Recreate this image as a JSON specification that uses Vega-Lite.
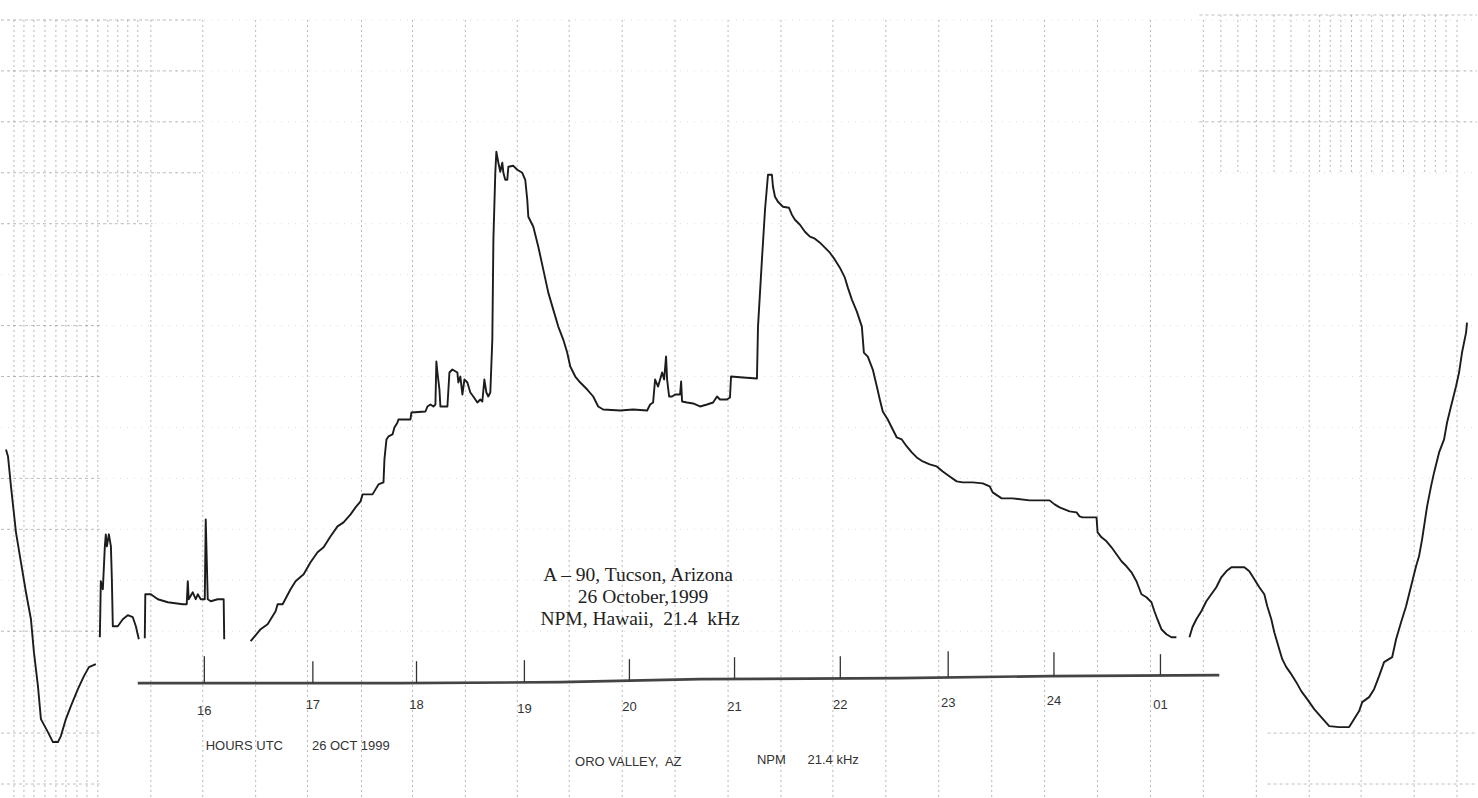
{
"$schema": "https://vega.github.io/schema/vega-lite/v6.json",
"width": 1478, "height": 798, "padding": 0,
"autosize": {"type": "fit", "contains": "padding"},
"background": "white",
"config": {"view": {"stroke": null}},
"datasets": {
"trace": [
{"h":14.119,"a":34.8,"s":1},{"h":14.138,"a":34.1,"s":1},{"h":14.166,"a":31.1,"s":1},{"h":14.213,"a":26.5,"s":1},{"h":14.260,"a":23.5,"s":1},{"h":14.307,"a":20.5,"s":1},{"h":14.354,"a":17.8,"s":1},{"h":14.382,"a":14.5,"s":1},{"h":14.420,"a":11.1,"s":1},{"h":14.448,"a":7.8,"s":1},{"h":14.514,"a":6.5,"s":1},{"h":14.561,"a":5.5,"s":1},{"h":14.608,"a":5.5,"s":1},{"h":14.636,"a":6.1,"s":1},{"h":14.683,"a":7.8,"s":1},{"h":14.730,"a":9.1,"s":1},{"h":14.796,"a":10.8,"s":1},{"h":14.853,"a":12.1,"s":1},{"h":14.900,"a":13.0,"s":1},{"h":14.965,"a":13.3,"s":1},
{"h":15.003,"a":16.0,"s":2},{"h":15.012,"a":21.6,"s":2},{"h":15.031,"a":20.8,"s":2},{"h":15.050,"a":25.1,"s":2},{"h":15.059,"a":26.3,"s":2},{"h":15.069,"a":25.1,"s":2},{"h":15.088,"a":26.3,"s":2},{"h":15.107,"a":25.1,"s":2},{"h":15.116,"a":21.8,"s":2},{"h":15.125,"a":17.1,"s":2},{"h":15.172,"a":17.1,"s":2},{"h":15.219,"a":17.8,"s":2},{"h":15.266,"a":18.2,"s":2},{"h":15.313,"a":18.0,"s":2},{"h":15.342,"a":17.1,"s":2},{"h":15.370,"a":15.8,"s":2},
{"h":15.426,"a":15.9,"s":3},{"h":15.431,"a":20.3,"s":3},{"h":15.483,"a":20.3,"s":3},{"h":15.549,"a":19.8,"s":3},{"h":15.643,"a":19.5,"s":3},{"h":15.784,"a":19.3,"s":3},{"h":15.821,"a":19.3,"s":3},{"h":15.831,"a":21.6,"s":3},{"h":15.840,"a":19.8,"s":3},{"h":15.878,"a":20.5,"s":3},{"h":15.906,"a":19.8,"s":3},{"h":15.925,"a":20.3,"s":3},{"h":15.953,"a":19.8,"s":3},{"h":15.991,"a":19.8,"s":3},{"h":16.000,"a":27.8,"s":3},{"h":16.019,"a":19.8,"s":3},{"h":16.047,"a":19.6,"s":3},{"h":16.113,"a":19.8,"s":3},{"h":16.169,"a":19.8,"s":3},{"h":16.174,"a":15.8,"s":3},
{"h":16.423,"a":15.6,"s":4},{"h":16.517,"a":16.8,"s":4},{"h":16.583,"a":17.3,"s":4},{"h":16.658,"a":18.6,"s":4},{"h":16.677,"a":19.3,"s":4},{"h":16.724,"a":19.3,"s":4},{"h":16.799,"a":20.8,"s":4},{"h":16.846,"a":21.6,"s":4},{"h":16.922,"a":22.3,"s":4},{"h":16.987,"a":23.5,"s":4},{"h":17.053,"a":24.5,"s":4},{"h":17.110,"a":25.0,"s":4},{"h":17.176,"a":26.1,"s":4},{"h":17.241,"a":27.1,"s":4},{"h":17.298,"a":27.5,"s":4},{"h":17.364,"a":28.3,"s":4},{"h":17.411,"a":29.0,"s":4},{"h":17.458,"a":29.6,"s":4},{"h":17.477,"a":30.3,"s":4},{"h":17.571,"a":30.3,"s":4},{"h":17.599,"a":30.8,"s":4},{"h":17.627,"a":31.3,"s":4},{"h":17.674,"a":31.5,"s":4},{"h":17.683,"a":33.8,"s":4},{"h":17.702,"a":35.8,"s":4},{"h":17.721,"a":36.1,"s":4},{"h":17.759,"a":36.3,"s":4},{"h":17.777,"a":37.0,"s":4},{"h":17.806,"a":37.5,"s":4},{"h":17.815,"a":37.8,"s":4},{"h":17.928,"a":37.8,"s":4},{"h":17.937,"a":38.5,"s":4},{"h":18.069,"a":38.6,"s":4},{"h":18.088,"a":39.1,"s":4},{"h":18.116,"a":39.3,"s":4},{"h":18.144,"a":39.1,"s":4},{"h":18.163,"a":39.3,"s":4},{"h":18.172,"a":43.6,"s":4},{"h":18.182,"a":42.5,"s":4},{"h":18.201,"a":40.8,"s":4},{"h":18.210,"a":39.1,"s":4},{"h":18.276,"a":39.1,"s":4},{"h":18.295,"a":42.5,"s":4},{"h":18.323,"a":42.8,"s":4},{"h":18.370,"a":42.5,"s":4},{"h":18.379,"a":41.5,"s":4},{"h":18.398,"a":42.1,"s":4},{"h":18.417,"a":40.3,"s":4},{"h":18.436,"a":41.8,"s":4},{"h":18.464,"a":41.5,"s":4},{"h":18.492,"a":40.5,"s":4},{"h":18.520,"a":40.1,"s":4},{"h":18.558,"a":39.5,"s":4},{"h":18.586,"a":39.8,"s":4},{"h":18.605,"a":39.6,"s":4},{"h":18.624,"a":41.8,"s":4},{"h":18.643,"a":40.5,"s":4},{"h":18.661,"a":40.1,"s":4},{"h":18.680,"a":40.5,"s":4},{"h":18.699,"a":45.8,"s":4},{"h":18.709,"a":55.8,"s":4},{"h":18.727,"a":62.5,"s":4},{"h":18.737,"a":64.6,"s":4},{"h":18.756,"a":63.5,"s":4},{"h":18.774,"a":62.6,"s":4},{"h":18.793,"a":63.5,"s":4},{"h":18.803,"a":62.5,"s":4},{"h":18.821,"a":61.8,"s":4},{"h":18.840,"a":61.8,"s":4},{"h":18.850,"a":63.1,"s":4},{"h":18.897,"a":63.2,"s":4},{"h":18.934,"a":62.8,"s":4},{"h":18.981,"a":62.5,"s":4},{"h":19.009,"a":61.8,"s":4},{"h":19.028,"a":59.8,"s":4},{"h":19.038,"a":58.1,"s":4},{"h":19.085,"a":57.1,"s":4},{"h":19.132,"a":55.1,"s":4},{"h":19.179,"a":52.8,"s":4},{"h":19.226,"a":50.5,"s":4},{"h":19.273,"a":48.8,"s":4},{"h":19.320,"a":47.1,"s":4},{"h":19.367,"a":45.8,"s":4},{"h":19.404,"a":44.5,"s":4},{"h":19.433,"a":43.1,"s":4},{"h":19.480,"a":42.1,"s":4},{"h":19.527,"a":41.5,"s":4},{"h":19.593,"a":40.8,"s":4},{"h":19.649,"a":40.1,"s":4},{"h":19.696,"a":39.1,"s":4},{"h":19.743,"a":38.8,"s":4},{"h":19.903,"a":38.7,"s":4},{"h":20.025,"a":38.8,"s":4},{"h":20.157,"a":38.7,"s":4},{"h":20.185,"a":39.3,"s":4},{"h":20.213,"a":39.5,"s":4},{"h":20.232,"a":41.8,"s":4},{"h":20.260,"a":41.1,"s":4},{"h":20.298,"a":42.5,"s":4},{"h":20.317,"a":41.8,"s":4},{"h":20.335,"a":44.1,"s":4},{"h":20.345,"a":41.8,"s":4},{"h":20.364,"a":40.1,"s":4},{"h":20.392,"a":40.1,"s":4},{"h":20.420,"a":40.3,"s":4},{"h":20.467,"a":40.3,"s":4},{"h":20.477,"a":41.6,"s":4},{"h":20.486,"a":39.6,"s":4},{"h":20.533,"a":39.5,"s":4},{"h":20.590,"a":39.4,"s":4},{"h":20.655,"a":39.1,"s":4},{"h":20.721,"a":39.3,"s":4},{"h":20.778,"a":39.5,"s":4},{"h":20.815,"a":40.1,"s":4},{"h":20.843,"a":39.8,"s":4},{"h":20.909,"a":39.8,"s":4},{"h":20.937,"a":40.0,"s":4},{"h":20.947,"a":42.1,"s":4},{"h":21.060,"a":42.0,"s":4},{"h":21.191,"a":41.9,"s":4},{"h":21.201,"a":47.1,"s":4},{"h":21.238,"a":53.8,"s":4},{"h":21.267,"a":58.8,"s":4},{"h":21.295,"a":62.3,"s":4},{"h":21.332,"a":62.3,"s":4},{"h":21.342,"a":61.1,"s":4},{"h":21.361,"a":60.1,"s":4},{"h":21.389,"a":59.6,"s":4},{"h":21.436,"a":59.1,"s":4},{"h":21.492,"a":59.0,"s":4},{"h":21.520,"a":58.3,"s":4},{"h":21.549,"a":57.8,"s":4},{"h":21.596,"a":57.3,"s":4},{"h":21.643,"a":56.6,"s":4},{"h":21.690,"a":56.1,"s":4},{"h":21.737,"a":55.9,"s":4},{"h":21.784,"a":55.5,"s":4},{"h":21.831,"a":55.0,"s":4},{"h":21.878,"a":54.5,"s":4},{"h":21.925,"a":53.8,"s":4},{"h":21.972,"a":53.0,"s":4},{"h":22.019,"a":52.0,"s":4},{"h":22.047,"a":51.0,"s":4},{"h":22.085,"a":49.8,"s":4},{"h":22.132,"a":48.6,"s":4},{"h":22.179,"a":47.1,"s":4},{"h":22.198,"a":44.5,"s":4},{"h":22.235,"a":44.1,"s":4},{"h":22.282,"a":42.8,"s":4},{"h":22.320,"a":41.1,"s":4},{"h":22.348,"a":39.8,"s":4},{"h":22.376,"a":38.6,"s":4},{"h":22.423,"a":37.8,"s":4},{"h":22.470,"a":36.8,"s":4},{"h":22.508,"a":36.0,"s":4},{"h":22.555,"a":35.8,"s":4},{"h":22.602,"a":35.1,"s":4},{"h":22.649,"a":34.5,"s":4},{"h":22.696,"a":34.0,"s":4},{"h":22.753,"a":33.6,"s":4},{"h":22.818,"a":33.3,"s":4},{"h":22.884,"a":33.1,"s":4},{"h":22.941,"a":32.6,"s":4},{"h":23.006,"a":32.1,"s":4},{"h":23.072,"a":31.6,"s":4},{"h":23.129,"a":31.5,"s":4},{"h":23.223,"a":31.5,"s":4},{"h":23.317,"a":31.4,"s":4},{"h":23.383,"a":31.1,"s":4},{"h":23.411,"a":30.5,"s":4},{"h":23.496,"a":29.9,"s":4},{"h":23.599,"a":29.9,"s":4},{"h":23.759,"a":29.7,"s":4},{"h":23.947,"a":29.7,"s":4},{"h":23.994,"a":29.3,"s":4},{"h":24.041,"a":29.0,"s":4},{"h":24.088,"a":28.8,"s":4},{"h":24.135,"a":28.6,"s":4},{"h":24.201,"a":28.5,"s":4},{"h":24.229,"a":28.1,"s":4},{"h":24.257,"a":28.0,"s":4},{"h":24.389,"a":28.0,"s":4},{"h":24.399,"a":26.5,"s":4},{"h":24.436,"a":26.0,"s":4},{"h":24.483,"a":25.6,"s":4},{"h":24.530,"a":25.0,"s":4},{"h":24.577,"a":24.3,"s":4},{"h":24.624,"a":23.6,"s":4},{"h":24.671,"a":23.1,"s":4},{"h":24.718,"a":22.5,"s":4},{"h":24.765,"a":21.6,"s":4},{"h":24.812,"a":20.3,"s":4},{"h":24.859,"a":20.0,"s":4},{"h":24.906,"a":19.5,"s":4},{"h":24.934,"a":18.6,"s":4},{"h":24.962,"a":17.8,"s":4},{"h":25.000,"a":16.8,"s":4},{"h":25.047,"a":16.3,"s":4},{"h":25.094,"a":16.0,"s":4},{"h":25.141,"a":16.0,"s":4},
{"h":25.264,"a":16.0,"s":5},{"h":25.292,"a":17.0,"s":5},{"h":25.329,"a":17.8,"s":5},{"h":25.376,"a":18.6,"s":5},{"h":25.423,"a":19.6,"s":5},{"h":25.470,"a":20.3,"s":5},{"h":25.517,"a":21.0,"s":5},{"h":25.564,"a":22.0,"s":5},{"h":25.611,"a":22.6,"s":5},{"h":25.659,"a":23.0,"s":5},{"h":25.781,"a":23.0,"s":5},{"h":25.828,"a":22.6,"s":5},{"h":25.875,"a":21.8,"s":5},{"h":25.922,"a":21.0,"s":5},{"h":25.969,"a":20.3,"s":5},{"h":25.997,"a":19.1,"s":5},{"h":26.035,"a":17.8,"s":5},{"h":26.063,"a":16.5,"s":5},{"h":26.110,"a":14.8,"s":5},{"h":26.138,"a":13.8,"s":5},{"h":26.176,"a":13.0,"s":5},{"h":26.223,"a":12.3,"s":5},{"h":26.270,"a":11.5,"s":5},{"h":26.317,"a":10.6,"s":5},{"h":26.373,"a":9.8,"s":5},{"h":26.439,"a":8.8,"s":5},{"h":26.505,"a":8.0,"s":5},{"h":26.580,"a":7.1,"s":5},{"h":26.674,"a":7.0,"s":5},{"h":26.768,"a":7.0,"s":5},{"h":26.815,"a":7.8,"s":5},{"h":26.862,"a":8.6,"s":5},{"h":26.891,"a":9.5,"s":5},{"h":26.956,"a":10.0,"s":5},{"h":27.003,"a":10.8,"s":5},{"h":27.050,"a":12.1,"s":5},{"h":27.097,"a":13.5,"s":5},{"h":27.173,"a":14.0,"s":5},{"h":27.210,"a":15.8,"s":5},{"h":27.257,"a":17.5,"s":5},{"h":27.304,"a":19.1,"s":5},{"h":27.351,"a":21.1,"s":5},{"h":27.398,"a":23.1,"s":5},{"h":27.426,"a":24.1,"s":5},{"h":27.455,"a":25.8,"s":5},{"h":27.502,"a":29.1,"s":5},{"h":27.539,"a":31.1,"s":5},{"h":27.568,"a":32.5,"s":5},{"h":27.615,"a":34.5,"s":5},{"h":27.662,"a":35.8,"s":5},{"h":27.690,"a":37.5,"s":5},{"h":27.727,"a":39.1,"s":5},{"h":27.774,"a":41.1,"s":5},{"h":27.803,"a":42.5,"s":5},{"h":27.831,"a":44.5,"s":5},{"h":27.869,"a":46.5,"s":5},{"h":27.878,"a":47.5,"s":5}
],
"gridv": [
{"h":14.194,"a1":77.8,"a2":0},{"h":14.288,"a1":77.8,"a2":0},{"h":14.382,"a1":77.8,"a2":0},{"h":14.486,"a1":77.8,"a2":0},{"h":14.589,"a1":77.8,"a2":0},{"h":14.683,"a1":77.8,"a2":0},{"h":14.787,"a1":77.8,"a2":0},{"h":14.881,"a1":77.8,"a2":0},{"h":14.984,"a1":77.8,"a2":0},
{"h":15.078,"a1":77.8,"a2":57.3},{"h":15.172,"a1":77.8,"a2":57.3},{"h":15.266,"a1":77.8,"a2":57.3},{"h":15.360,"a1":77.8,"a2":57.3},
{"h":15.483,"a1":77.8,"a2":0},{"h":15.972,"a1":77.8,"a2":0},{"h":16.470,"a1":77.8,"a2":0},{"h":16.959,"a1":77.8,"a2":0},{"h":17.467,"a1":77.8,"a2":0},{"h":17.947,"a1":77.8,"a2":0},{"h":18.445,"a1":77.8,"a2":0},{"h":18.934,"a1":77.8,"a2":0},{"h":19.423,"a1":77.8,"a2":0},{"h":19.922,"a1":77.8,"a2":0},{"h":20.420,"a1":77.8,"a2":0},{"h":20.919,"a1":77.8,"a2":0},{"h":21.417,"a1":77.8,"a2":0},{"h":21.906,"a1":77.8,"a2":0},{"h":22.405,"a1":77.8,"a2":0},{"h":22.903,"a1":77.8,"a2":0},{"h":23.402,"a1":77.8,"a2":0},{"h":23.900,"a1":77.8,"a2":0},{"h":24.398,"a1":77.8,"a2":0},{"h":24.897,"a1":77.8,"a2":0},{"h":25.395,"a1":77.8,"a2":0},{"h":25.894,"a1":77.8,"a2":0},{"h":26.392,"a1":77.8,"a2":0},{"h":26.881,"a1":77.8,"a2":0},{"h":27.380,"a1":77.8,"a2":0},{"h":27.784,"a1":77.8,"a2":0},
{"h":25.560,"a1":78.3,"a2":62.5},{"h":25.720,"a1":78.3,"a2":62.5},{"h":26.060,"a1":78.3,"a2":62.5},{"h":26.220,"a1":78.3,"a2":62.5},{"h":26.490,"a1":78.3,"a2":62.5},{"h":26.590,"a1":78.3,"a2":62.5},{"h":26.690,"a1":78.3,"a2":62.5},{"h":26.790,"a1":78.3,"a2":62.5},{"h":26.980,"a1":78.3,"a2":62.5},{"h":27.080,"a1":78.3,"a2":62.5},{"h":27.180,"a1":78.3,"a2":62.5},{"h":27.280,"a1":78.3,"a2":62.5},{"h":27.480,"a1":78.3,"a2":62.5},{"h":27.580,"a1":78.3,"a2":62.5},{"h":27.680,"a1":78.3,"a2":62.5}
],
"gridh": [
{"a":77.8,"h1":14.072,"h2":15.953},{"a":72.7,"h1":14.072,"h2":15.953},{"a":67.6,"h1":14.072,"h2":15.953},{"a":62.5,"h1":14.072,"h2":15.953},{"a":57.4,"h1":14.072,"h2":15.5},{"a":47.2,"h1":14.072,"h2":15.0},{"a":42.1,"h1":14.072,"h2":15.0},{"a":31.9,"h1":14.072,"h2":15.0},{"a":26.8,"h1":14.072,"h2":15.0},{"a":16.6,"h1":14.072,"h2":15.0},{"a":6.4,"h1":14.072,"h2":15.0},{"a":1.3,"h1":14.072,"h2":15.0},
{"a":78.3,"h1":25.358,"h2":27.972},{"a":72.7,"h1":25.358,"h2":27.972},{"a":67.6,"h1":25.358,"h2":27.972},{"a":6.4,"h1":26.0,"h2":27.972},{"a":1.3,"h1":26.0,"h2":27.972}
],
"gridh2": [
{"a":77.8,"h1":14.072,"h2":27.972},{"a":72.7,"h1":14.072,"h2":27.972},{"a":67.6,"h1":14.072,"h2":27.972},{"a":62.5,"h1":14.072,"h2":27.972},{"a":57.4,"h1":14.072,"h2":27.972},{"a":52.3,"h1":14.072,"h2":27.972},{"a":47.2,"h1":14.072,"h2":27.972},{"a":42.1,"h1":14.072,"h2":27.972},{"a":37.0,"h1":14.072,"h2":27.972},{"a":31.9,"h1":14.072,"h2":27.972},{"a":26.8,"h1":14.072,"h2":27.972},{"a":21.7,"h1":14.072,"h2":27.972},{"a":16.6,"h1":14.072,"h2":27.972}
],
"axisline": [
{"h":15.360,"a":11.4},{"h":16.500,"a":11.4},{"h":17.834,"a":11.4},{"h":19.339,"a":11.5},{"h":20.655,"a":11.8},{"h":22.536,"a":11.9},{"h":23.947,"a":12.1},{"h":25.545,"a":12.2}
],
"ticks": [
{"h":15.987,"a1":11.4,"a2":14.1,"label":"16","la":8.6},
{"h":17.009,"a1":11.4,"a2":13.6,"label":"17","la":9.2},
{"h":17.985,"a1":11.4,"a2":13.6,"label":"18","la":9.2},
{"h":19.001,"a1":11.5,"a2":13.7,"label":"19","la":8.8},
{"h":19.990,"a1":11.6,"a2":13.8,"label":"20","la":9.0},
{"h":20.980,"a1":11.8,"a2":14.0,"label":"21","la":9.0},
{"h":21.976,"a1":11.9,"a2":14.1,"label":"22","la":9.2},
{"h":22.992,"a1":12.0,"a2":14.6,"label":"23","la":9.4},
{"h":23.988,"a1":12.1,"a2":14.5,"label":"24","la":9.6},
{"h":24.991,"a1":12.2,"a2":14.3,"label":"01","la":9.2}
],
"center": [
{"h":20.072,"a":22.2,"text":"A – 90, Tucson, Arizona"},
{"h":20.118,"a":20.0,"text":"26 October,1999"},
{"h":20.090,"a":17.8,"text":"NPM, Hawaii,\u00a0 21.4\u00a0 kHz"}
],
"bottom": [
{"h":16.000,"a":5.1,"text":"HOURS UTC\u00a0\u00a0\u00a0\u00a0\u00a0\u00a0\u00a0\u00a026 OCT 1999"},
{"h":19.478,"a":3.5,"text":"ORO VALLEY,\u00a0 AZ"},
{"h":21.191,"a":3.7,"text":"NPM\u00a0\u00a0\u00a0\u00a0\u00a0\u00a021.4 kHz"}
]
},
"layer": [
{"data": {"name": "gridv"}, "mark": {"type": "rule", "color": "#808080", "strokeWidth": 1, "strokeDash": [2, 3], "opacity": 0.55},
 "encoding": {"x": {"field": "h", "type": "quantitative", "scale": {"domain": [14.072, 27.972], "nice": false, "zero": false}, "axis": null},
  "y": {"field": "a1", "type": "quantitative", "scale": {"domain": [0, 79.8], "nice": false, "zero": false}, "axis": null},
  "y2": {"field": "a2"}}},
{"data": {"name": "gridh"}, "mark": {"type": "rule", "color": "#808080", "strokeWidth": 1, "strokeDash": [3, 3], "opacity": 0.5},
 "encoding": {"y": {"field": "a", "type": "quantitative"}, "x": {"field": "h1", "type": "quantitative"}, "x2": {"field": "h2"}}},
{"data": {"name": "gridh2"}, "mark": {"type": "rule", "color": "#909090", "strokeWidth": 1, "strokeDash": [1, 6], "opacity": 0.3},
 "encoding": {"y": {"field": "a", "type": "quantitative"}, "x": {"field": "h1", "type": "quantitative"}, "x2": {"field": "h2"}}},
{"data": {"name": "axisline"}, "mark": {"type": "line", "color": "#444", "strokeWidth": 2.6},
 "encoding": {"x": {"field": "h", "type": "quantitative"}, "y": {"field": "a", "type": "quantitative"}}},
{"data": {"name": "ticks"}, "mark": {"type": "rule", "color": "#333", "strokeWidth": 1.3},
 "encoding": {"x": {"field": "h", "type": "quantitative"}, "y": {"field": "a1", "type": "quantitative"}, "y2": {"field": "a2"}}},
{"data": {"name": "ticks"}, "mark": {"type": "text", "font": "Liberation Sans, sans-serif", "fontSize": 13, "color": "#333", "align": "center", "baseline": "middle"},
 "encoding": {"x": {"field": "h", "type": "quantitative"}, "y": {"field": "la", "type": "quantitative"}, "text": {"field": "label"}}},
{"data": {"name": "trace"}, "mark": {"type": "line", "color": "#1c1c1c", "strokeWidth": 1.9, "strokeJoin": "round"},
 "encoding": {"x": {"field": "h", "type": "quantitative"}, "y": {"field": "a", "type": "quantitative"}, "detail": {"field": "s", "type": "nominal"}}},
{"data": {"name": "center"}, "mark": {"type": "text", "font": "Liberation Serif, Times New Roman, serif", "fontSize": 19.5, "color": "#222", "align": "center", "baseline": "middle"},
 "encoding": {"x": {"field": "h", "type": "quantitative"}, "y": {"field": "a", "type": "quantitative"}, "text": {"field": "text"}}},
{"data": {"name": "bottom"}, "mark": {"type": "text", "font": "Liberation Sans, sans-serif", "fontSize": 13, "color": "#333", "align": "left", "baseline": "middle"},
 "encoding": {"x": {"field": "h", "type": "quantitative"}, "y": {"field": "a", "type": "quantitative"}, "text": {"field": "text"}}}
]
}
